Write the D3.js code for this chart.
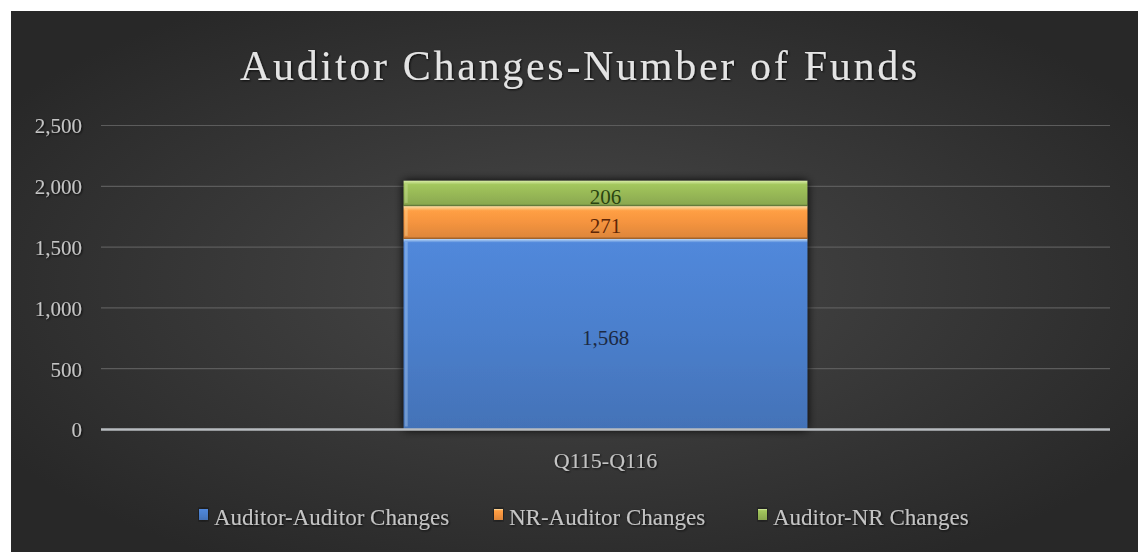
<!DOCTYPE html>
<html>
<head>
<meta charset="utf-8">
<script src="https://cdn.jsdelivr.net/npm/d3@7"></script>
<style>
  body { margin: 0; background: #fff; }
  text { font-family: "Liberation Serif", "DejaVu Serif", serif; }
</style>
</head>
<body>
<div id="chart"></div>
<script>
var width = 1138,
    height = 552;

// data
var categories = ["Q115-Q116"];
var seriesNames = ["Auditor-Auditor Changes", "NR-Auditor Changes", "Auditor-NR Changes"];
var auditorAuditor = [1568];
var nrAuditor = [271];
var auditorNr = [206];
var yTicks = [0, 500, 1000, 1500, 2000, 2500];

var colors = ["#4b7fcc", "#f5943f", "#98b957"];
var lightColors = ["#c2ddf8", "#fde2aa", "#d8eca6"];
var labelColors = ["#1c2a44", "#5e2606", "#2a4410"];

var margin = {left: 101, right: 28, top: 125.5, bottom: 122.5};

var svg = d3.select("#chart")
    .append("svg")
    .attr("width", width)
    .attr("height", height);

var defs = svg.append("defs");

var bg = defs.append("radialGradient")
    .attr("id", "bg")
    .attr("cx", "50%").attr("cy", "50%").attr("r", "60%");
bg.append("stop").attr("offset", "0%").attr("stop-color", "#494949");
bg.append("stop").attr("offset", "100%").attr("stop-color", "#282828");

// bevel-ish gradient for each series
colors.forEach(function(c, i) {
    var g = defs.append("linearGradient")
        .attr("id", "grad" + i)
        .attr("x1", 0).attr("y1", 0).attr("x2", 0).attr("y2", 1);
    g.append("stop").attr("offset", "0%").attr("stop-color", lightColors[i]);
    g.append("stop").attr("offset", i == 0 ? "2%" : "15%").attr("stop-color", d3.color(c).brighter(0.2));
    g.append("stop").attr("offset", "50%").attr("stop-color", c);
    g.append("stop").attr("offset", "100%").attr("stop-color", d3.color(c).darker(0.3));
});

var shadow = defs.append("filter").attr("id", "shadow")
    .attr("x", "-10%").attr("y", "-10%").attr("width", "120%").attr("height", "120%");
shadow.append("feGaussianBlur").attr("in", "SourceAlpha").attr("stdDeviation", 5);
shadow.append("feOffset").attr("dx", 0).attr("dy", 0).attr("result", "b");
var merge = shadow.append("feMerge");
merge.append("feMergeNode").attr("in", "b");
merge.append("feMergeNode").attr("in", "SourceGraphic");

var titleShadow = defs.append("filter").attr("id", "tshadow");
titleShadow.append("feDropShadow").attr("dx", 1).attr("dy", 1).attr("stdDeviation", 1)
    .attr("flood-color", "#000").attr("flood-opacity", 0.8);

// background panel
svg.append("rect")
    .attr("x", 11).attr("y", 11)
    .attr("width", width - 11).attr("height", height - 11)
    .attr("fill", "url(#bg)");

var x = d3.scaleBand()
    .domain(categories)
    .range([margin.left, width - margin.right])
    .paddingInner(0.6)
    .paddingOuter(0.3);

var y = d3.scaleLinear()
    .domain([0, 2500])
    .range([height - margin.bottom, margin.top]);

// gridlines
svg.append("g")
    .selectAll("line")
    .data(yTicks.filter(function(d) { return d > 0; }))
    .enter()
    .append("line")
    .attr("x1", margin.left)
    .attr("x2", width - margin.right)
    .attr("y1", function(d) { return y(d); })
    .attr("y2", function(d) { return y(d); })
    .attr("stroke", "#5c5c5c")
    .attr("stroke-width", 1.2);

// y axis
var yAxis = svg.append("g")
    .attr("transform", "translate(" + (margin.left - 16) + ",0)")
    .call(d3.axisLeft(y).tickValues(yTicks).tickSize(0).tickFormat(d3.format(",")));
yAxis.select(".domain").remove();
yAxis.selectAll("text")
    .attr("fill", "#c4c4c4")
    .attr("font-size", 21)
    .attr("dy", "0.35em")
    .attr("filter", "url(#tshadow)");

// stacked data
var table = categories.map(function(c, i) {
    return {cat: c, a: auditorAuditor[i], b: nrAuditor[i], c: auditorNr[i]};
});
var stack = d3.stack().keys(["a", "b", "c"]);
var layers = stack(table);

var barGroup = svg.append("g").attr("filter", "url(#shadow)");

layers.forEach(function(layer, i) {
    barGroup.selectAll(".bar" + i)
        .data(layer)
        .enter()
        .append("rect")
        .attr("class", "bar" + i)
        .attr("x", function(d) { return x(d.data.cat); })
        .attr("width", x.bandwidth())
        .attr("y", function(d) { return y(d[1]); })
        .attr("height", function(d) { return y(d[0]) - y(d[1]); })
        .attr("fill", "url(#grad" + i + ")");
});

// light strip on the left side of each segment
layers.forEach(function(layer, i) {
    svg.selectAll(".edge" + i)
        .data(layer)
        .enter()
        .append("rect")
        .attr("x", function(d) { return x(d.data.cat) + 1; })
        .attr("width", 3)
        .attr("y", function(d) { return y(d[1]) + 3; })
        .attr("height", function(d) { return y(d[0]) - y(d[1]) - 6; })
        .attr("fill", lightColors[i])
        .attr("opacity", 0.35);
});

// dark seam lines between segments
layers.forEach(function(layer, i) {
    svg.selectAll(".seam" + i)
        .data(layer)
        .enter()
        .append("line")
        .attr("x1", function(d) { return x(d.data.cat); })
        .attr("x2", function(d) { return x(d.data.cat) + x.bandwidth(); })
        .attr("y1", function(d) { return y(d[0]) - 0.5; })
        .attr("y2", function(d) { return y(d[0]) - 0.5; })
        .attr("stroke", d3.color(colors[i]).darker(1.5))
        .attr("stroke-opacity", i == 0 ? 0 : 0.7)
        .attr("stroke-width", 1.5);
});

// labels
layers.forEach(function(layer, i) {
    svg.selectAll(".lab" + i)
        .data(layer)
        .enter()
        .append("text")
        .attr("x", function(d) { return x(d.data.cat) + x.bandwidth() / 2; })
        .attr("y", function(d) { return (y(d[0]) + y(d[1])) / 2 + 3; })
        .attr("dy", "0.35em")
        .attr("text-anchor", "middle")
        .attr("font-size", 21)
        .attr("fill", labelColors[i])
        .text(function(d) { return d3.format(",")(d[1] - d[0]); });
});

// baseline
svg.append("line")
    .attr("x1", margin.left)
    .attr("x2", width - margin.right)
    .attr("y1", y(0))
    .attr("y2", y(0))
    .attr("stroke", "#b8bcc0")
    .attr("stroke-width", 2.5);

// x axis labels
svg.append("g")
    .selectAll("text")
    .data(categories)
    .enter()
    .append("text")
    .attr("x", function(d) { return x(d) + x.bandwidth() / 2; })
    .attr("y", 468)
    .attr("text-anchor", "middle")
    .attr("font-size", 22)
    .attr("fill", "#c4c4c4")
    .attr("filter", "url(#tshadow)")
    .text(function(d) { return d; });

// title
svg.append("text")
    .attr("x", 580)
    .attr("y", 80)
    .attr("text-anchor", "middle")
    .attr("font-size", 42)
    .attr("letter-spacing", 2.7)
    .attr("fill", "#e4e4e4")
    .attr("filter", "url(#tshadow)")
    .text("Auditor Changes-Number of Funds");

// legend
var legendX = [199, 494, 758];
var legend = svg.append("g")
    .selectAll("g")
    .data(seriesNames)
    .enter()
    .append("g")
    .attr("transform", function(d, i) { return "translate(" + legendX[i] + ",525)"; });

legend.append("rect")
    .attr("x", 0).attr("y", -16)
    .attr("width", 9).attr("height", 11)
    .attr("fill", function(d, i) { return "url(#grad" + i + ")"; })
    .attr("filter", "url(#shadow)");

legend.append("text")
    .attr("x", 15)
    .attr("y", 0)
    .attr("font-size", 23)
    .attr("fill", "#c4c4c4")
    .attr("filter", "url(#tshadow)")
    .text(function(d) { return d; });
</script>
</body>
</html>
